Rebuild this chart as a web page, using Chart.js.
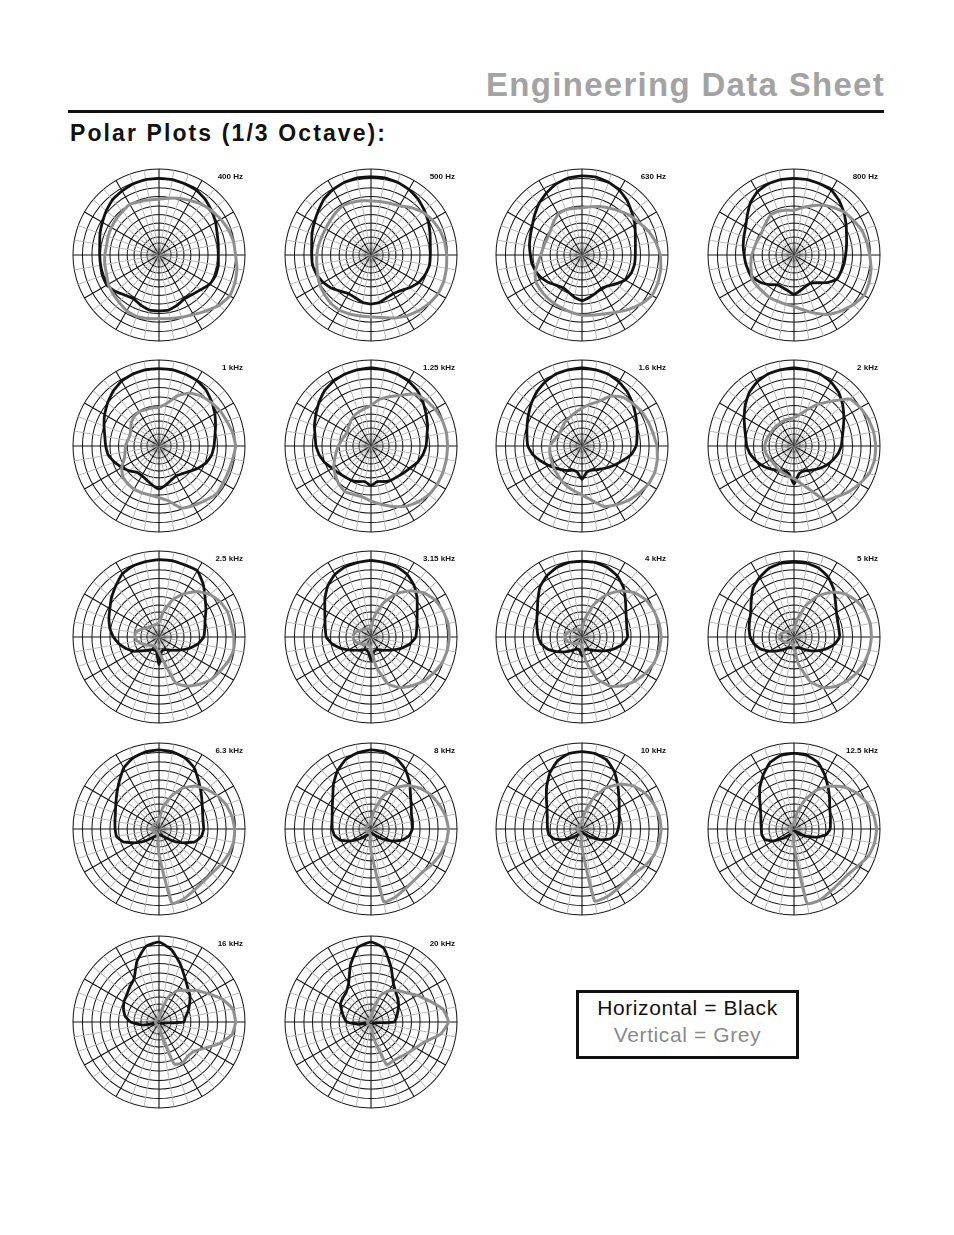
<!DOCTYPE html>
<html>
<head>
<meta charset="utf-8">
<script src="https://cdn.jsdelivr.net/npm/chart.js@4.4.1/dist/chart.umd.min.js"></script>
<style>
  html, body { margin: 0; padding: 0; background: #fff; }
  body { width: 954px; height: 1235px; position: relative; overflow: hidden; font-family: "Liberation Sans", Arial, Helvetica, sans-serif; }
  .title { position: absolute; right: 69px; top: 66px; font-size: 33px; font-weight: bold; color: #a3a3a3; letter-spacing: 1.3px; }
  .rule { position: absolute; left: 68px; top: 110px; width: 816px; height: 3px; background: #111; }
  .sub { position: absolute; left: 70px; top: 120px; font-size: 23px; font-weight: bold; color: #111; letter-spacing: 2.1px; }
  .plot { position: absolute; width: 176px; height: 176px; }
  .flab { position: absolute; font-size: 8px; font-weight: bold; color: #111; white-space: nowrap; transform: translate(-100%, -50%); }
  .legend { position: absolute; left: 576px; top: 990px; width: 217px; height: 63px; border: 3px solid #111; text-align: center; }
  .legend .l1 { position: absolute; left: 0; right: 0; top: 3px; font-size: 21px; color: #111; letter-spacing: 0.6px; }
  .legend .l2 { position: absolute; left: 0; right: 0; top: 30px; font-size: 21px; color: #8a8a8a; letter-spacing: 0.6px; }
</style>
</head>
<body>
<div class="title">Engineering Data Sheet</div>
<div class="rule"></div>
<div class="sub">Polar Plots (1/3 Octave):</div>
<div class="legend"><div class="l1">Horizontal = Black</div><div class="l2">Vertical = Grey</div></div>
<script>
// ---- data (radius as % of the outer ring, angle 0 deg = top, clockwise, 10 deg steps) ----
const ANGLES = [0,10,20,30,40,50,60,70,80,90,100,110,120,130,140,150,160,170,180,190,200,210,220,230,240,250,260,270,280,290,300,310,320,330,340,350];
const RING_LEVELS = [0,7,14,21,29,37,47,57,68,78,89,100];
const FREQ_LABELS = ['400 Hz','500 Hz','630 Hz','800 Hz','1 kHz','1.25 kHz','1.6 kHz','2 kHz','2.5 kHz','3.15 kHz','4 kHz','5 kHz','6.3 kHz','8 kHz','10 kHz','12.5 kHz','16 kHz','20 kHz'];

const H_400 = [89,89,88,87,84,80,76,72,70,69,70,70,68,63,60,59,62,65,65,65,62,59,61,66,70,70,69,69,70,73,76,80,84,86,88,89];
const V_400 = [65,67,70,73,77,80,83,86,88,89,92,94,95,91,85,80,77,75,74,75,76,75,72,70,68,65,64,63,62,63,64,65,66,68,66,65];
const H_500 = [91,91,90,88,85,81,77,73,70,69,69,67,64,59,54,52,53,56,57,56,53,52,55,60,64,67,69,69,70,73,76,80,85,88,90,91];
const V_500 = [63,63,64,66,72,78,82,85,87,88,89,90,90,88,85,82,78,74,72,72,73,74,73,71,69,66,64,63,62,61,61,62,64,66,65,64];
const H_630 = [92,92,90,87,82,76,71,66,63,62,62,61,58,52,47,45,47,50,53,50,46,44,46,50,54,57,59,60,62,64,67,72,78,83,88,91];
const V_630 = [55,57,60,63,67,72,76,82,87,91,93,94,94,89,83,77,73,71,70,68,66,65,64,63,62,58,52,48,46,45,45,47,51,55,56,55];
const H_800 = [89,89,88,87,82,76,70,65,62,60,59,58,57,50,42,38,39,42,46,42,40,40,45,50,54,56,57,58,60,62,65,71,79,85,88,89];
const V_800 = [52,56,61,67,72,77,80,84,86,88,91,93,94,90,85,80,72,65,60,58,57,57,56,56,56,53,51,49,47,46,45,47,50,54,54,53];
const H_1000 = [90,90,89,88,85,80,75,70,66,64,62,58,52,46,42,40,42,46,50,46,42,40,40,45,50,55,60,62,64,68,73,78,83,87,89,90];
const V_1000 = [45,50,62,71,76,79,82,84,87,89,87,86,86,87,83,80,77,65,60,58,58,58,57,55,50,43,40,39,37,36,38,42,45,46,45,45];
const H_1250 = [91,90,89,87,84,79,74,70,66,64,61,57,52,49,47,46,44,42,46,42,44,46,47,49,52,57,61,64,66,70,74,79,84,87,89,90];
const V_1250 = [47,55,61,68,79,83,86,88,89,89,89,89,89,88,85,81,75,69,64,60,60,61,58,54,50,45,41,38,35,33,32,34,37,40,42,44];
const H_1600 = [91,90,89,86,82,77,72,68,65,63,58,50,44,39,35,32,30,31,39,31,30,33,36,40,45,51,58,63,65,68,72,77,82,86,89,90];
const V_1600 = [44,49,55,67,74,77,80,82,84,87,89,90,89,86,83,79,75,64,57,53,50,47,44,42,40,39,38,37,34,31,30,31,33,35,37,40];
const H_2000 = [91,90,89,86,81,74,67,61,57,55,52,48,44,40,36,33,31,33,44,33,31,33,36,40,44,48,52,55,57,61,67,74,81,86,89,90];
const V_2000 = [33,37,45,56,68,85,89,92,94,95,95,93,88,83,77,73,54,44,38,36,34,33,32,31,32,33,34,34,33,32,31,31,31,31,32,32];
const H_2500 = [90,90,89,89,80,70,63,57,54,52,46,38,30,24,20,17,16,17,32,17,16,17,20,25,33,40,47,53,58,62,66,72,78,85,88,89];
const V_2500 = [17,30,46,58,69,77,82,85,85,87,88,85,81,78,72,66,57,28,18,14,12,12,13,15,18,22,26,28,28,24,20,17,16,15,15,15];
const H_3150 = [89,88,87,84,78,70,62,57,54,52,46,38,30,24,20,17,16,18,27,18,16,17,20,24,30,38,46,52,54,57,62,70,78,84,87,88];
const V_3150 = [12,25,42,58,70,80,86,89,91,91,90,88,84,80,74,68,58,35,15,10,9,10,11,13,15,18,20,21,20,18,15,13,12,11,10,10];
const H_4000 = [88,88,86,82,75,66,59,55,53,53,48,40,32,25,20,17,15,16,22,16,15,17,21,27,34,42,48,51,53,56,60,67,76,82,86,88];
const V_4000 = [10,22,40,57,70,80,86,89,91,92,91,89,85,80,74,66,52,30,12,8,8,9,10,12,14,17,19,20,19,17,14,12,11,10,9,9];
const H_5000 = [87,87,85,80,72,63,57,54,53,53,48,40,32,25,19,15,13,13,14,13,13,15,19,25,33,41,47,51,53,55,58,65,74,80,85,87];
const V_5000 = [8,20,38,55,68,78,84,88,90,90,89,87,84,80,75,68,55,33,14,8,7,8,9,10,12,14,16,17,16,14,12,10,9,8,8,8];
const H_6300 = [92,91,88,82,72,64,58,54,52,52,50,44,32,22,14,10,8,7,7,7,8,10,14,22,32,44,50,51,52,54,58,64,72,82,88,91];
const V_6300 = [10,25,40,55,65,72,78,83,86,88,88,86,83,80,80,82,86,88,30,8,6,6,6,6,7,7,8,8,8,8,8,8,8,8,8,8];
const H_8000 = [92,91,87,80,70,60,54,50,49,48,45,38,28,18,11,8,6,5,5,5,6,8,11,18,28,38,43,45,46,48,52,58,68,78,86,90];
const V_8000 = [8,22,40,55,66,74,80,84,88,90,89,86,82,78,78,80,84,86,25,6,5,5,5,5,5,6,6,6,6,6,6,6,6,6,6,6];
const H_10000 = [90,89,85,76,65,56,50,46,44,42,40,34,25,16,10,7,5,4,4,4,5,7,10,16,25,34,39,40,41,43,47,54,64,75,84,89];
const V_10000 = [8,20,38,55,68,78,84,88,91,92,91,89,85,80,79,81,84,85,22,6,5,5,5,5,5,5,5,5,5,5,5,5,5,5,5,5];
const H_12500 = [88,87,82,72,62,54,48,45,43,42,38,28,17,10,6,4,3,3,3,3,4,6,10,17,28,36,38,38,39,41,45,52,62,72,82,87];
const V_12500 = [6,18,35,52,65,76,84,90,94,96,95,92,86,82,82,84,88,88,20,5,5,5,5,5,5,5,5,5,5,5,5,5,5,5,5,5];
const H_16000 = [93,85,72,60,52,47,41,36,31,29,6,4,3,3,3,3,3,3,3,3,3,3,3,3,4,6,20,33,40,44,47,49,53,58,75,89];
const V_16000 = [5,12,30,42,48,57,66,78,87,89,86,74,61,53,52,55,52,15,4,4,4,4,4,4,4,4,4,4,4,4,4,4,4,4,4,4];
const H_20000 = [93,87,68,52,45,41,37,33,30,27,5,3,3,3,3,3,3,3,3,3,3,3,3,3,4,4,15,28,32,36,41,43,45,52,70,88];
const V_20000 = [5,15,33,42,48,53,62,72,85,90,82,67,60,56,53,52,53,20,4,4,4,4,4,4,4,4,4,4,4,4,4,4,4,4,4,4];

const HORIZONTAL = [H_400,H_500,H_630,H_800,H_1000,H_1250,H_1600,H_2000,H_2500,H_3150,H_4000,H_5000,H_6300,H_8000,H_10000,H_12500,H_16000,H_20000];
const VERTICAL = [V_400,V_500,V_630,V_800,V_1000,V_1250,V_1600,V_2000,V_2500,V_3150,V_4000,V_5000,V_6300,V_8000,V_10000,V_12500,V_16000,V_20000];

// ---- layout ----
const COL_X = [159, 371, 582, 794];
const ROW_Y = [255, 446, 637, 829, 1022];
const HALF = 88;

FREQ_LABELS.forEach((name, i) => {
  const cx = COL_X[i % 4], cy = ROW_Y[Math.floor(i / 4)];
  const cv = document.createElement('canvas');
  cv.className = 'plot';
  cv.width = 2 * HALF; cv.height = 2 * HALF;
  cv.style.left = (cx - HALF) + 'px';
  cv.style.top = (cy - HALF) + 'px';
  cv.style.width = (2 * HALF) + 'px';
  cv.style.height = (2 * HALF) + 'px';
  document.body.appendChild(cv);

  const lab = document.createElement('div');
  lab.className = 'flab';
  lab.textContent = name;
  lab.style.left = (cx + 84) + 'px';
  lab.style.top = (cy - 79) + 'px';
  document.body.appendChild(lab);

  new Chart(cv, {
    type: 'radar',
    data: {
      labels: ANGLES.map(a => a + '°'),
      datasets: [
        { label: 'Vertical', data: VERTICAL[i], borderColor: '#8f8f8f', borderWidth: 3, fill: false },
        { label: 'Horizontal', data: HORIZONTAL[i], borderColor: '#111111', borderWidth: 2.8, fill: false }
      ]
    },
    options: {
      responsive: false,
      animation: false,
      devicePixelRatio: 2,
      layout: { padding: 2 },
      elements: {
        point: { radius: 0, hoverRadius: 0 },
        line: { tension: 0.15, borderJoinStyle: 'round', borderCapStyle: 'round' }
      },
      plugins: { legend: { display: false }, tooltip: { enabled: false } },
      scales: {
        r: {
          min: 0, max: 100,
          afterBuildTicks: (scale) => { scale.ticks = RING_LEVELS.map(v => ({ value: v })); },
          ticks: { display: false },
          pointLabels: { display: false },
          grid: { circular: true, color: '#111', lineWidth: 1 },
          angleLines: {
            display: true,
            color: (ctx) => (ctx.index % 3 === 0 ? '#111' : '#b5b5b5'),
            lineWidth: (ctx) => (ctx.index % 3 === 0 ? 1.1 : 0.9)
          }
        }
      }
    }
  });
});
</script>
</body>
</html>
